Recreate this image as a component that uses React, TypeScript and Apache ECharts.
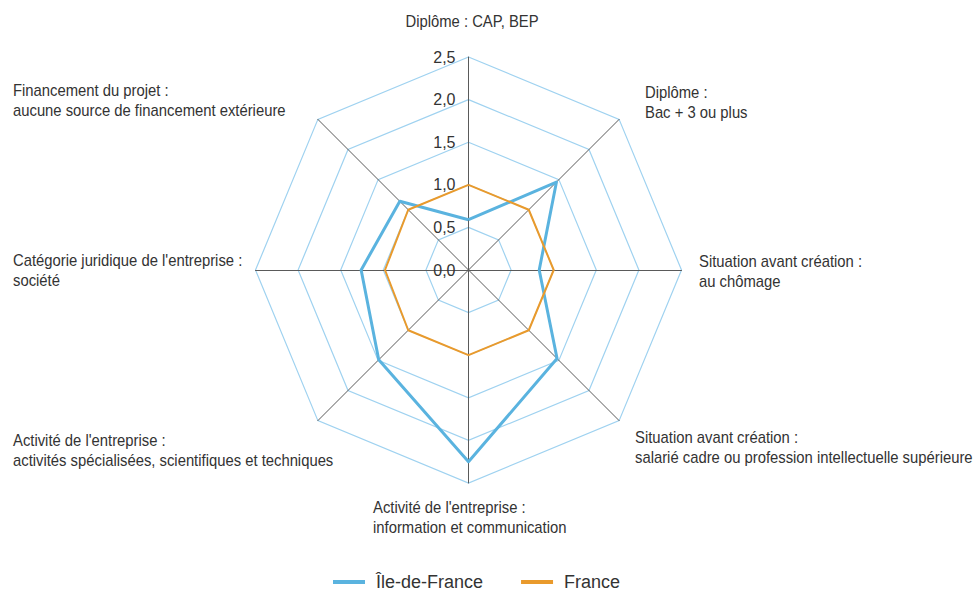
import React, { useEffect, useRef } from "react";
import * as echarts from "echarts";

const indicatorNames = [
  "Diplôme : CAP, BEP",
  "Financement du projet :\naucune source de financement extérieure",
  "Catégorie juridique de l'entreprise :\nsociété",
  "Activité de l'entreprise :\nactivités spécialisées, scientifiques et techniques",
  "Activité de l'entreprise :\ninformation et communication",
  "Situation avant création :\nsalarié cadre ou profession intellectuelle supérieure",
  "Situation avant création :\nau chômage",
  "Diplôme :\nBac + 3 ou plus",
];
const seriesNames = ["Île-de-France", "France"];
const ileDeFrance = [0.59, 1.14, 1.26, 1.49, 2.25, 1.47, 0.83, 1.46];
const france = [1.0, 1.0, 0.98, 1.0, 1.0, 1.0, 1.0, 1.0];
const axisMax = 2.5;

const FONT = "'Liberation Sans', Arial, sans-serif";
const TEXT = "#333333";

// label layout (positions only)
const labelPos: { x: number; y: number; align: "left" | "center" }[] = [
  { x: 472, y: 11, align: "center" },
  { x: 13, y: 80, align: "left" },
  { x: 13, y: 250, align: "left" },
  { x: 13, y: 430, align: "left" },
  { x: 373, y: 497, align: "left" },
  { x: 635, y: 427, align: "left" },
  { x: 699, y: 251, align: "left" },
  { x: 645, y: 82, align: "left" },
];

function measure(text: string, size: number): number {
  const c = document.createElement("canvas").getContext("2d");
  if (!c) return text.length * size * 0.5;
  c.font = `${size}px ${FONT}`;
  return c.measureText(text).width;
}

export default function App() {
  const ref = useRef<HTMLDivElement>(null);
  useEffect(() => {
    if (!ref.current) return;
    const chart = echarts.init(ref.current, null, { renderer: "svg" });
    const fs = 16;
    // horizontal condensing so the longest label line spans ~340px like the reference
    const longest = "salarié cadre ou profession intellectuelle supérieure";
    const sx = Math.min(1, 338 / measure(longest, fs));
    chart.setOption({
      animation: false,
      backgroundColor: "#ffffff",
      legend: {
        top: 573,
        left: 333,
        padding: 0,
        itemWidth: 32,
        itemHeight: 4,
        itemGap: 38,
        icon: "rect",
        textStyle: { fontFamily: FONT, fontSize: 18, color: TEXT, padding: [0, 0, 0, 6] },
        data: seriesNames,
      },
      radar: {
        center: [468.5, 270],
        radius: 213,
        startAngle: 90,
        shape: "polygon",
        splitNumber: 5,
        axisName: { show: false },
        indicator: indicatorNames.map((n, i) =>
          i === 0
            ? {
                name: n,
                min: 0,
                max: axisMax,
                axisLabel: {
                  show: true,
                  margin: 13,
                  fontFamily: FONT,
                  fontSize: 16,
                  color: TEXT,
                  formatter: (v: number) => v.toFixed(1).replace(".", ","),
                },
              }
            : { name: n, min: 0, max: axisMax }
        ),
        axisLine: { show: true, lineStyle: { color: "#5a5a5a", width: 1 } },
        splitLine: { show: true, lineStyle: { color: "#9fd2f0", width: 1.2 } },
        splitArea: { show: false },
        axisTick: { show: false },
        axisLabel: { show: false },
      },
      series: [
        {
          type: "radar",
          symbol: "none",
          data: [
            {
              name: seriesNames[0],
              value: ileDeFrance,
              lineStyle: { color: "#5ab3df", width: 3 },
              itemStyle: { color: "#5ab3df" },
            },
            {
              name: seriesNames[1],
              value: france,
              lineStyle: { color: "#e99a2c", width: 2 },
              itemStyle: { color: "#e99a2c" },
            },
          ],
        },
      ],
      graphic: indicatorNames.map((n, i) => ({
        type: "text",
        x: labelPos[i].x,
        y: labelPos[i].y,
        scaleX: sx,
        style: {
          text: n,
          fontFamily: FONT,
          fontSize: fs,
          lineHeight: 20,
          fill: TEXT,
          align: labelPos[i].align,
          verticalAlign: "top",
        },
      })),
    });
    return () => chart.dispose();
  }, []);
  return (
    <div
      ref={ref}
      style={{ position: "fixed", left: 0, top: 0, width: 979, height: 595 }}
    />
  );
}
